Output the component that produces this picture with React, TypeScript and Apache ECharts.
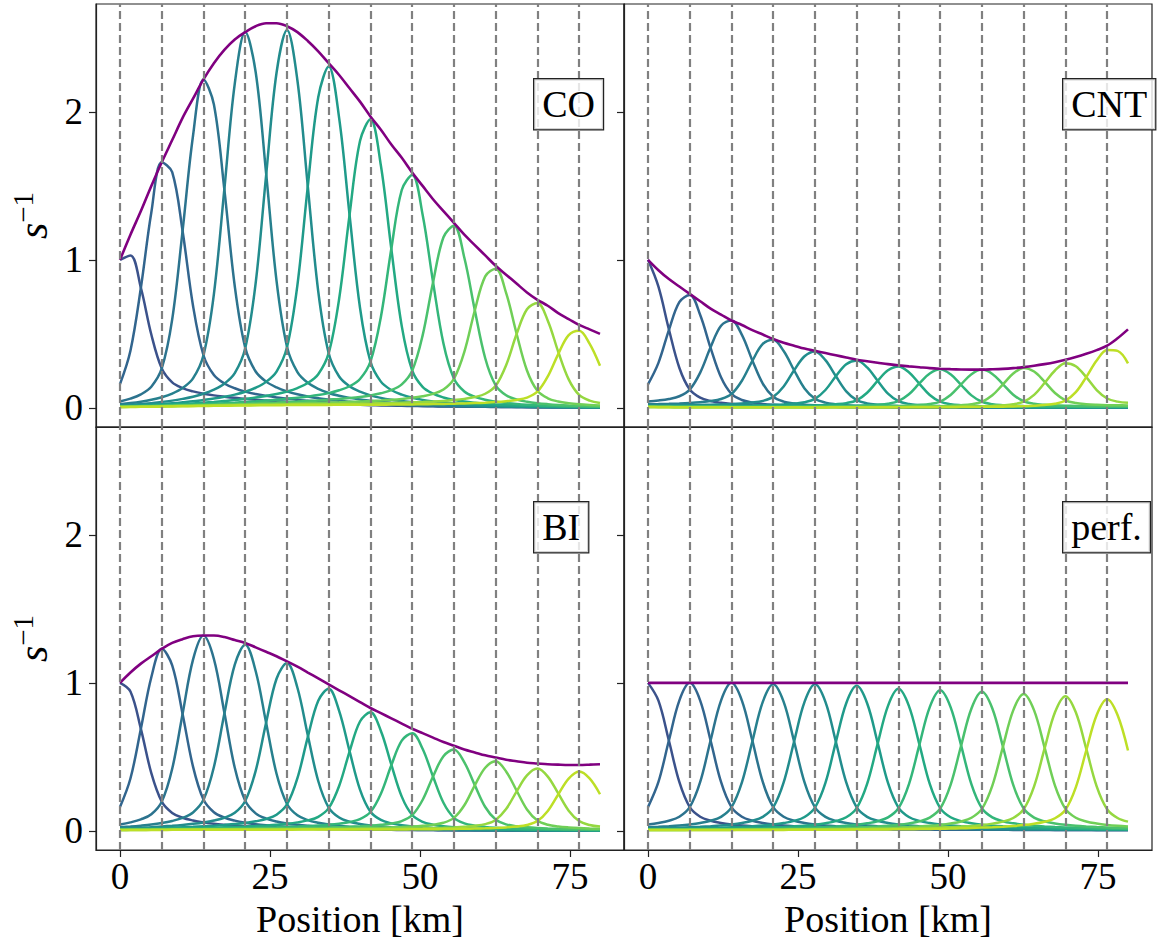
import React, { useEffect, useRef } from "react";
import * as echarts from "echarts";

// Station positions [km] (dashed lines)
const stations = [0, 6.96, 13.91, 20.87, 27.83, 34.78, 41.74, 48.7, 55.65, 62.61, 69.57, 76.52];

// Sampling positions [km] at which curves were read
const xGrid = [
  0, 1.74, 3.48, 5.22, 6.96, 8.7, 10.43, 12.17, 13.91, 15.65, 17.39, 19.13, 20.87, 22.61, 24.35, 26.09,
  27.83, 29.57, 31.3, 33.04, 34.78, 36.52, 38.26, 40.0, 41.74, 43.48, 45.22, 46.96, 48.7, 50.43, 52.17,
  53.91, 55.65, 57.39, 59.13, 60.87, 62.61, 64.35, 66.09, 67.83, 69.57, 71.3, 73.04, 74.78, 76.52, 78.26, 80.0,
];

// Shape of one station response, read from the "perf." panel, by distance (in grid steps) from its station
const kernel = [
  1.0, 0.88, 0.61, 0.33, 0.16, 0.095, 0.068, 0.053, 0.043, 0.036, 0.031, 0.027, 0.024, 0.021, 0.019, 0.017,
  0.0155, 0.014, 0.013, 0.012, 0.011, 0.0105, 0.01, 0.0095, 0.009, 0.0086, 0.0082, 0.0078, 0.0075, 0.0072,
  0.007, 0.0068, 0.0066, 0.0064, 0.0062, 0.006, 0.0058, 0.0056, 0.0055, 0.0054, 0.0053, 0.0052, 0.0051,
  0.005, 0.005, 0.005, 0.005,
];

// Peak of each station response relative to the envelope, read per panel
const gainCO = [1.0, 1.0, 1.0, 1.0, 0.99, 0.99, 0.99, 0.99, 0.985, 0.98, 0.97, 0.93];
const gainCNT = [1.0, 0.99, 1.0, 0.99, 0.99, 0.985, 0.975, 0.985, 1.0, 0.98, 0.93, 0.93];
const gainBI = [1.0, 1.0, 1.0, 0.99, 0.99, 0.97, 0.965, 0.955, 0.955, 0.95, 0.925, 0.9];
const gainPerf = [1.0, 1.0, 1.0, 0.99, 0.99, 0.98, 0.96, 0.95, 0.94, 0.925, 0.91, 0.89];

// Envelopes (purple curves) read at xGrid
const envCO = [
  1.0, 1.17, 1.33, 1.5, 1.66, 1.81, 1.96, 2.09, 2.22, 2.33, 2.42, 2.49, 2.54, 2.58, 2.6, 2.6, 2.58, 2.54,
  2.48, 2.41, 2.33, 2.25, 2.16, 2.07, 1.97, 1.88, 1.78, 1.69, 1.59, 1.5, 1.41, 1.33, 1.25, 1.17, 1.1, 1.03,
  0.96, 0.9, 0.84, 0.78, 0.73, 0.69, 0.64, 0.6, 0.56, 0.53, 0.5,
];
const envCNT = [
  1.0, 0.93, 0.87, 0.82, 0.77, 0.72, 0.67, 0.63, 0.59, 0.56, 0.525, 0.495, 0.465, 0.44, 0.42, 0.4, 0.385,
  0.37, 0.355, 0.34, 0.325, 0.315, 0.305, 0.295, 0.287, 0.28, 0.274, 0.268, 0.264, 0.261, 0.259, 0.258,
  0.258, 0.26, 0.263, 0.268, 0.275, 0.284, 0.295, 0.308, 0.324, 0.343, 0.365, 0.39, 0.42, 0.47, 0.53,
];
const envBI = [
  1.0, 1.07, 1.13, 1.18, 1.23, 1.27, 1.295, 1.315, 1.32, 1.32, 1.31, 1.29, 1.27, 1.24, 1.21, 1.18, 1.145,
  1.11, 1.07, 1.03, 0.99, 0.95, 0.91, 0.87, 0.83, 0.795, 0.76, 0.725, 0.69, 0.66, 0.63, 0.6, 0.575, 0.55,
  0.53, 0.51, 0.495, 0.48, 0.47, 0.46, 0.455, 0.45, 0.447, 0.445, 0.445, 0.447, 0.45,
];
const envPerf = xGrid.map(() => 1.0);

const panelNames = ["CO", "CNT", "BI", "perf."];
const panelEnvelopes = [envCO, envCNT, envBI, envPerf];
const panelGains = [gainCO, gainCNT, gainBI, gainPerf];

const xTicks = [0, 25, 50, 75];
const yTicks = [0, 1, 2];

const bumpColors = [
  "#3b528b", "#32658e", "#2c738e", "#27808e", "#228c8d", "#1f9a8a",
  "#23a983", "#33b67a", "#4ac16d", "#70cf57", "#95d840", "#bddf26",
];

const FONT = "Liberation Serif";

function buildOption(): any {
  const grids = [
    { left: 96, top: 4, width: 528, height: 423 },
    { left: 624, top: 4, width: 528, height: 423 },
    { left: 96, top: 427, width: 528, height: 423 },
    { left: 624, top: 427, width: 528, height: 423 },
  ].map((g) => ({ ...g, show: true, borderColor: "#222", borderWidth: 1.2, containLabel: false }));

  const xAxes = grids.map((_, p) => ({
    gridIndex: p,
    type: "value",
    min: -4,
    max: 84,
    splitLine: { show: false },
    axisLine: { show: true, onZero: false, lineStyle: { color: "#222", width: 1.2 } },
    axisTick: { show: p >= 2, customValues: xTicks, length: 7, lineStyle: { color: "#222", width: 1.2 } },
    axisLabel: {
      show: p >= 2,
      customValues: xTicks,
      fontSize: 37,
      fontFamily: FONT,
      color: "#000",
      margin: 8,
    },
    name: p >= 2 ? "Position [km]" : "",
    nameLocation: "middle",
    nameGap: 50,
    nameTextStyle: { fontSize: 38, fontFamily: FONT, color: "#000" },
  }));

  const yAxes = grids.map((_, p) => ({
    gridIndex: p,
    type: "value",
    min: -0.13,
    max: 2.73,
    splitLine: { show: false },
    axisLine: { show: true, onZero: false, lineStyle: { color: "#222", width: 1.2 } },
    axisTick: { show: true, customValues: yTicks, length: 7, lineStyle: { color: "#222", width: 1.2 } },
    axisLabel: {
      show: p % 2 === 0,
      customValues: yTicks,
      fontSize: 37,
      fontFamily: FONT,
      color: "#000",
      margin: 13,
    },
    name: p % 2 === 0 ? "{s|s}{p|\u22121}" : "",
    nameLocation: "middle",
    nameRotate: 90,
    nameGap: 42,
    nameTextStyle: {
      color: "#000",
      fontFamily: FONT,
      rich: {
        s: { fontSize: 42, fontStyle: "italic", fontFamily: FONT, color: "#000", lineHeight: 46, verticalAlign: "bottom" },
        p: { fontSize: 29, fontFamily: FONT, color: "#000", lineHeight: 46, verticalAlign: "top" },
      },
    },
  }));

  const series: any[] = [];
  for (let p = 0; p < 4; p++) {
    const env = panelEnvelopes[p];
    const gain = panelGains[p];
    series.push({
      type: "line",
      xAxisIndex: p,
      yAxisIndex: p,
      data: [],
      z: 1,
      markLine: {
        silent: true,
        symbol: ["none", "none"],
        label: { show: false },
        lineStyle: { color: "#808080", type: [8, 4], width: 2.2 },
        data: stations.map((s) => ({ xAxis: s })),
      },
    });
    stations.forEach((s, i) => {
      const idx = xGrid.indexOf(s);
      series.push({
        type: "line",
        xAxisIndex: p,
        yAxisIndex: p,
        z: 2,
        smooth: 0.35,
        showSymbol: false,
        lineStyle: { color: bumpColors[i], width: 2.5 },
        data: xGrid.map((x, k) => [x, gain[i] * env[k] * kernel[Math.abs(k - idx)]]),
      });
    });
    series.push({
      type: "line",
      xAxisIndex: p,
      yAxisIndex: p,
      z: 3,
      smooth: 0.35,
      showSymbol: false,
      lineStyle: { color: "#800080", width: 2.6 },
      data: xGrid.map((x, k) => [x, env[k]]),
    });
  }

  const boxPos = [
    { left: 533, top: 78 },
    { left: 1062, top: 78 },
    { left: 533, top: 501 },
    { left: 1062, top: 501 },
  ];
  const graphic = panelNames.map((name, p) => ({
    type: "text",
    left: boxPos[p].left,
    top: boxPos[p].top,
    z: 10,
    style: {
      text: name,
      fontSize: 38,
      fontFamily: FONT,
      fill: "#000",
      backgroundColor: "rgba(255,255,255,0.8)",
      borderColor: "#222",
      borderWidth: 1.2,
      padding: [6, 8, 6, 8],
    },
  }));

  return {
    animation: false,
    backgroundColor: "#fff",
    grid: grids,
    xAxis: xAxes,
    yAxis: yAxes,
    series,
    graphic,
  };
}

export default function App() {
  const ref = useRef<HTMLDivElement>(null);
  useEffect(() => {
    const chart = echarts.init(ref.current as HTMLDivElement, null, { renderer: "svg" });
    chart.setOption(buildOption());
    return () => chart.dispose();
  }, []);
  return <div ref={ref} style={{ position: "fixed", left: 0, top: 0, width: 1163, height: 939 }} />;
}
